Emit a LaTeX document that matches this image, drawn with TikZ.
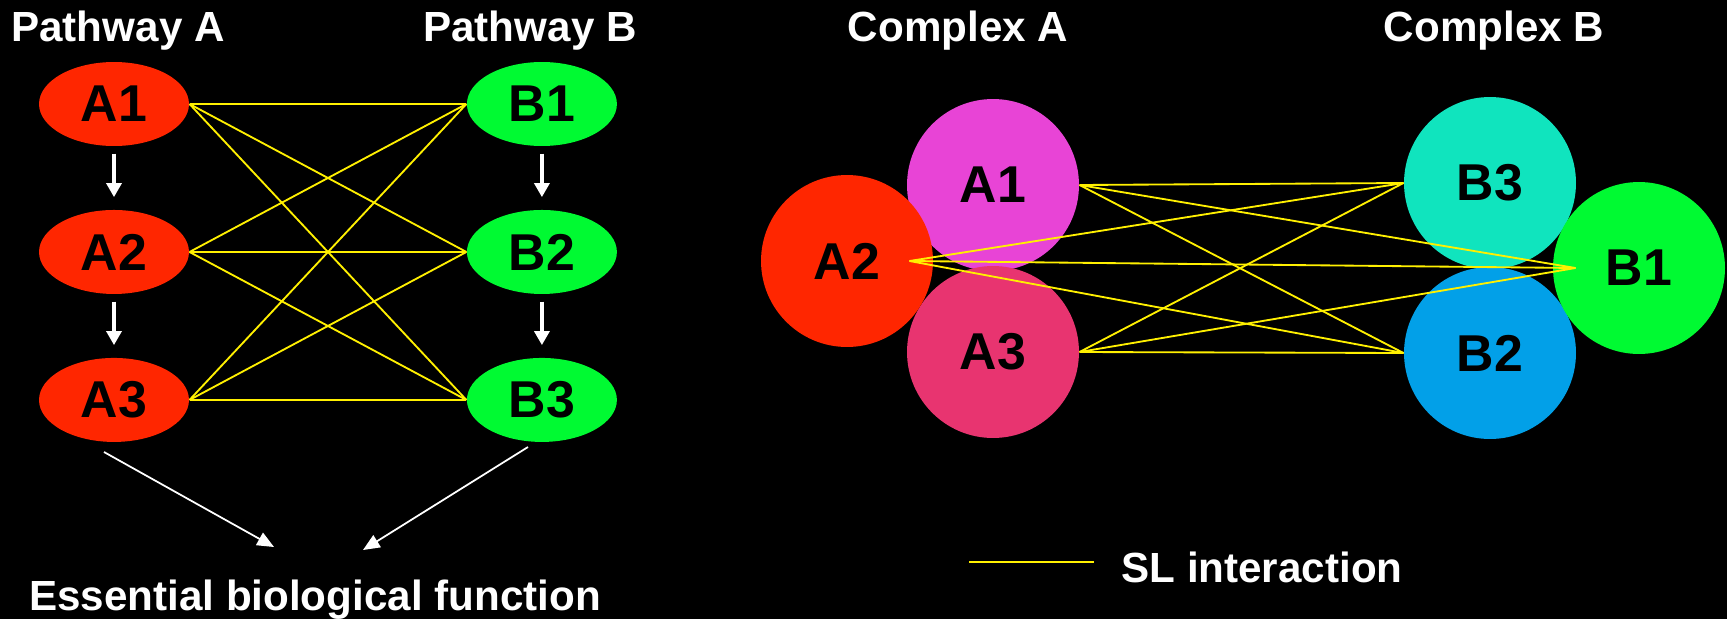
\documentclass[tikz,border=0pt]{standalone}
\usepackage{fontspec}
\setmainfont{Liberation Sans}
\usetikzlibrary{arrows.meta,shapes.geometric,positioning}

\definecolor{genered}{RGB}{255,38,0}
\definecolor{genegreen}{RGB}{0,250,50}
\definecolor{unitmagenta}{RGB}{232,68,214}
\definecolor{unitpink}{RGB}{232,52,112}
\definecolor{unitcyan}{RGB}{16,228,190}
\definecolor{unitblue}{RGB}{2,160,232}
\definecolor{slyellow}{RGB}{255,240,0}

\begin{document}
\begin{tikzpicture}[x=0.02cm, y=-0.02cm, node distance=2.96cm, semithick]
    \tikzstyle{gene}=[ellipse, inner sep=0pt, minimum width=3cm, minimum height=1.68cm,
                      text=black, font=\fontsize{29.5}{34}\selectfont\bfseries]
    \tikzstyle{unit}=[circle, inner sep=0pt, minimum size=3.44cm,
                      text=black, font=\fontsize{29.5}{34}\selectfont\bfseries]
    \tikzstyle{title}=[text=white, anchor=base, inner sep=0pt,
                       font=\fontsize{24}{28}\selectfont\bfseries]
    \tikzstyle{sl}=[draw=slyellow, line width=1.05pt]
    \tikzstyle{flow}=[draw=white, line width=2pt, -{Triangle[width=8.5pt,length=8pt]},
                      shorten <=4pt, shorten >=7pt]
    \tikzstyle{feed}=[draw=white, line width=1pt, -{Triangle[width=8pt,length=9.5pt]}]

    \useasboundingbox[fill=black] (0,0) rectangle (1727,619);

    % pathways
    \node[gene, fill=genered]   (A1) at (114,104)                        {A1};
    \node[gene, fill=genered]   (A2) [below of=A1]                       {A2};
    \node[gene, fill=genered]   (A3) [below of=A2]                       {A3};
    \node[gene, fill=genegreen] (B1) [right of=A1, node distance=8.56cm] {B1};
    \node[gene, fill=genegreen] (B2) [below of=B1]                       {B2};
    \node[gene, fill=genegreen] (B3) [below of=B2]                       {B3};

    \node[title] (pathA) at (118,41)  {Pathway A};
    \node[title] (pathB) at (530,41)  {Pathway B};
    \node[title] (func)  at (315,610) {Essential biological function};

    \draw[flow] (A1) -- (A2);
    \draw[flow] (A2) -- (A3);
    \draw[flow] (B1) -- (B2);
    \draw[flow] (B2) -- (B3);

    \coordinate (A3out) at (104,452);
    \coordinate (B3out) at (528,447);
    \coordinate (funcA) at (274,547);
    \coordinate (funcB) at (363,550);
    \draw[feed] (A3out) -- (funcA);
    \draw[feed] (B3out) -- (funcB);

    \path[sl] (A1.east) edge (B1.west) edge (B2.west) edge (B3.west);
    \path[sl] (A2.east) edge (B1.west) edge (B2.west) edge (B3.west);
    \path[sl] (A3.east) edge (B1.west) edge (B2.west) edge (B3.west);

    % complexes
    \node[unit, fill=unitmagenta] (cA1) at (993,185)  {A1};
    \node[unit, fill=unitpink]    (cA3) at (993,352)  {A3};
    \node[unit, fill=genered]     (cA2) at (847,261)  {A2};
    \node[unit, fill=unitcyan]    (cB3) at (1490,183) {B3};
    \node[unit, fill=unitblue]    (cB2) at (1490,353) {B2};
    \node[unit, fill=genegreen]   (cB1) at (1639,268) {B1};

    \node[title] (compA) at (958,41)  {Complex A};
    \node[title] (compB) at (1494,41) {Complex B};

    \coordinate (cA2in) at ([xshift=-0.48cm]cA2.east);
    \coordinate (cB1in) at ([xshift=0.46cm]cB1.west);

    \path[sl] (cA1.east) edge (cB3.west) edge (cB1in) edge (cB2.west);
    \path[sl] (cA2in)    edge (cB3.west) edge (cB1in) edge (cB2.west);
    \path[sl] (cA3.east) edge (cB3.west) edge (cB1in) edge (cB2.west);

    % legend
    \coordinate (keyL) at (969,562);
    \coordinate (keyR) at (1094,562);
    \draw[sl] (keyL) -- (keyR);
    \node[title] (key) at (1262,582) {SL interaction};
\end{tikzpicture}
\end{document}
